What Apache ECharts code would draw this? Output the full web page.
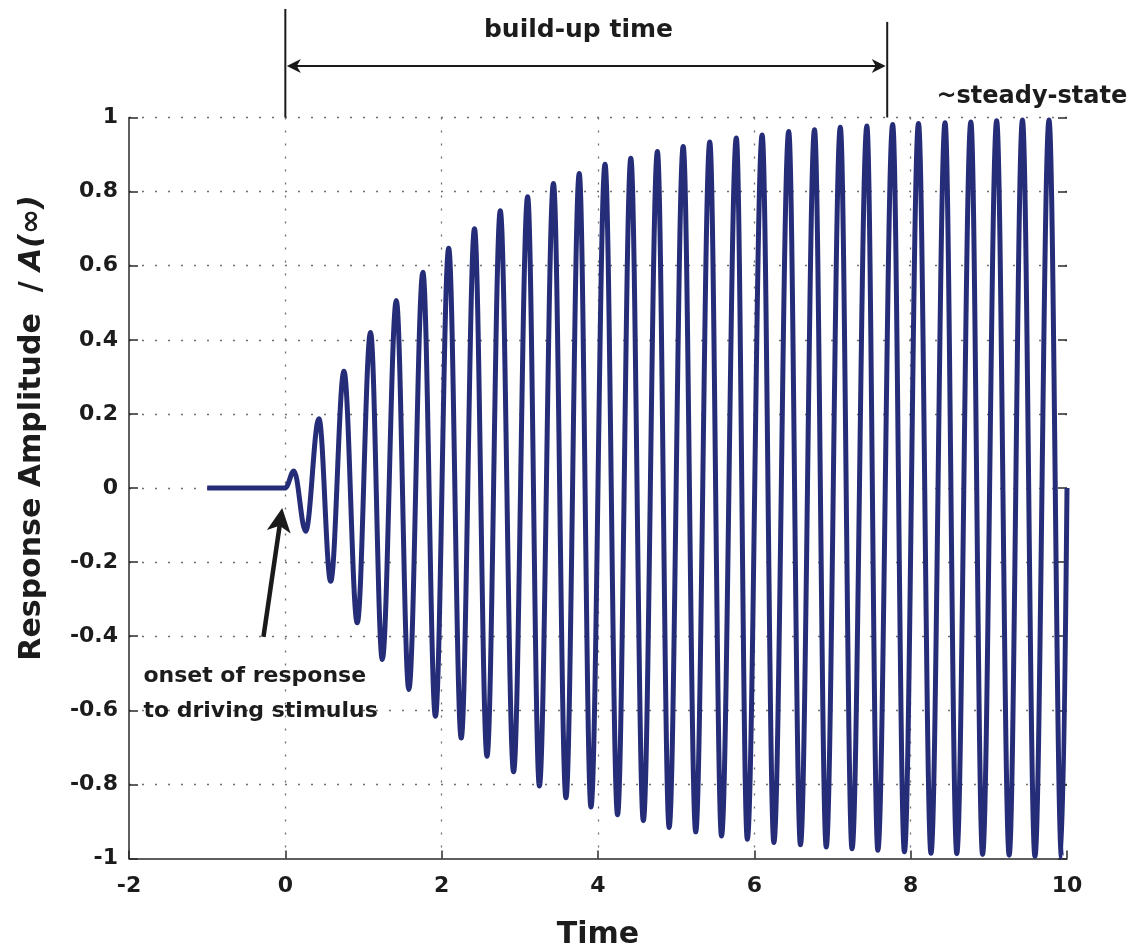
<!DOCTYPE html>
<html>
<head>
<meta charset="utf-8">
<script src="https://cdn.jsdelivr.net/npm/echarts@6/dist/echarts.min.js"></script>
<style>
html,body{margin:0;padding:0;background:#fff;}
#chart{width:1134px;height:950px;}
</style>
</head>
<body>
<div id="chart"></div>
<script>
// ---- data ----
const flatTimes = [-1, 0];
const flatValues = [0, 0];
const peakTimes = [0.11, 0.43, 0.75, 1.09, 1.42, 1.76, 2.09, 2.42, 2.75, 3.10, 3.43, 3.76, 4.09, 4.42, 4.76, 5.09, 5.43, 5.77, 6.10, 6.44, 6.77, 7.10, 7.44, 7.77, 8.10, 8.44, 8.77, 9.10, 9.43, 9.77];
const peakValues = [0.046, 0.187, 0.315, 0.42, 0.506, 0.582, 0.647, 0.70, 0.748, 0.786, 0.822, 0.849, 0.874, 0.89, 0.908, 0.922, 0.934, 0.945, 0.953, 0.962, 0.967, 0.974, 0.977, 0.981, 0.984, 0.986, 0.988, 0.991, 0.993, 0.993];
const troughTimes = [0.26, 0.58, 0.92, 1.24, 1.58, 1.92, 2.25, 2.58, 2.92, 3.25, 3.59, 3.91, 4.25, 4.58, 4.91, 5.25, 5.58, 5.91, 6.25, 6.59, 6.92, 7.25, 7.58, 7.92, 8.26, 8.59, 8.92, 9.26, 9.59, 9.93];
const troughValues = [-0.117, -0.252, -0.364, -0.463, -0.544, -0.616, -0.675, -0.724, -0.766, -0.804, -0.836, -0.861, -0.882, -0.898, -0.916, -0.928, -0.939, -0.948, -0.957, -0.963, -0.969, -0.974, -0.978, -0.982, -0.986, -0.987, -0.989, -0.991, -0.994, -0.996];
const endTime = 10;
const endValue = 0;

const xTickLabels = ['-2', '0', '2', '4', '6', '8', '10'];
const yTickLabels = ['-1', '-0.8', '-0.6', '-0.4', '-0.2', '0', '0.2', '0.4', '0.6', '0.8', '1'];

// annotation anchors (data units)
const buildUpRange = [0, 7.7];
const buildUpLineTop = [1.293, 1.258];
const buildUpArrowY = 1.139;
const buildUpLabelPos = [3.75, 1.236];
const steadyLabelPos = [9.55, 1.055];
const onsetArrowTail = [-0.28, -0.402];
const onsetArrowTip = [-0.04, -0.054];
const onsetLabelPos = [-1.816, -0.507];

// ---- build series ----
const waveData = [];
for (let i = 0; i < flatTimes.length; i++) waveData.push([flatTimes[i], flatValues[i]]);
for (let i = 0; i < peakTimes.length; i++) {
  waveData.push([peakTimes[i], peakValues[i]]);
  waveData.push([troughTimes[i], troughValues[i]]);
}
waveData.push([endTime, endValue]);

const FONT = 'DejaVu Sans';
const TXT = '#1c1c1c';
const AX = '#2a2a2a';

const chart = echarts.init(document.getElementById('chart'), null, {renderer: 'canvas'});
chart.setOption({
  animation: false,
  backgroundColor: '#fff',
  grid: {left: 129, right: 67, top: 117.5, bottom: 91.5, containLabel: false, outerBoundsMode: 'none'},
  xAxis: {
    type: 'value', min: -2, max: 10, interval: 2,
    axisLine: {show: true, onZero: false, lineStyle: {color: AX, width: 1.5}},
    axisTick: {show: true, inside: true, length: 8, lineStyle: {color: AX, width: 1.5}},
    axisLabel: {
      fontFamily: FONT, fontWeight: 'bold', fontSize: 22, color: TXT, margin: 17,
      formatter: (v, i) => xTickLabels[i]
    },
    splitLine: {show: true, showMinLine: false, showMaxLine: false,
      lineStyle: {color: '#6f6f6f', width: 1.3, type: [2, 11]}},
    name: 'Time', nameLocation: 'middle', nameGap: 62,
    nameTextStyle: {fontFamily: FONT, fontWeight: 'bold', fontSize: 30, color: TXT}
  },
  yAxis: [{
    type: 'value', min: -1, max: 1, interval: 0.2, position: 'left',
    axisLine: {show: true, onZero: false, lineStyle: {color: AX, width: 1.5}},
    axisTick: {show: true, inside: true, length: 9, lineStyle: {color: AX, width: 1.5}},
    axisLabel: {
      fontFamily: FONT, fontWeight: 'bold', fontSize: 22, color: TXT, margin: 11,
      formatter: (v, i) => yTickLabels[i]
    },
    splitLine: {show: true, showMinLine: false, showMaxLine: true,
      lineStyle: {color: '#6f6f6f', width: 1.3, type: [2, 11]}}
  }, {
    type: 'value', min: -1, max: 1, interval: 0.2, position: 'right',
    axisLine: {show: false, onZero: false},
    axisTick: {show: true, inside: true, length: 9, lineStyle: {color: AX, width: 1.5}},
    axisLabel: {show: false},
    splitLine: {show: false}
  }],
  series: [{
    type: 'line',
    data: waveData,
    showSymbol: false,
    smooth: 0.364,
    smoothMonotone: 'x',
    clip: false,
    lineStyle: {color: '#262d78', width: 5},
    z: 3
  }]
});

function px(p) { return chart.convertToPixel({gridIndex: 0}, p); }

function arrowHead(tip, from, len, halfW, notch) {
  const dx = tip[0] - from[0], dy = tip[1] - from[1];
  const d = Math.sqrt(dx * dx + dy * dy);
  const ux = dx / d, uy = dy / d;
  const nx = -uy, ny = ux;
  const bx = tip[0] - ux * len, by = tip[1] - uy * len;
  const mx = tip[0] - ux * (len - notch), my = tip[1] - uy * (len - notch);
  return [tip, [bx + nx * halfW, by + ny * halfW], [mx, my], [bx - nx * halfW, by - ny * halfW]];
}

const g = [];
// build-up vertical markers
for (let k = 0; k < 2; k++) {
  const top = px([buildUpRange[k], buildUpLineTop[k]]);
  const bot = px([buildUpRange[k], 1]);
  g.push({type: 'line', shape: {x1: top[0], y1: top[1], x2: bot[0], y2: bot[1]},
    style: {stroke: '#1a1a1a', lineWidth: 2}, z: 10});
}
const aL = px([buildUpRange[0], buildUpArrowY]);
const aR = px([buildUpRange[1], buildUpArrowY]);
aL[0] += 1.5; aR[0] -= 1.5;
g.push({type: 'line', shape: {x1: aL[0] + 8, y1: aL[1], x2: aR[0] - 8, y2: aR[1]},
  style: {stroke: '#1a1a1a', lineWidth: 2}, z: 10});
g.push({type: 'polygon', shape: {points: arrowHead(aL, aR, 14, 7, 4)}, style: {fill: '#1a1a1a'}, z: 10});
g.push({type: 'polygon', shape: {points: arrowHead(aR, aL, 14, 7, 4)}, style: {fill: '#1a1a1a'}, z: 10});

const bl = px(buildUpLabelPos);
g.push({type: 'text', x: bl[0], y: bl[1], z: 10,
  style: {text: 'build-up time', fill: TXT, fontFamily: FONT, fontWeight: 'bold', fontSize: 25,
    align: 'center', verticalAlign: 'middle'}});
const sl = px(steadyLabelPos);
g.push({type: 'text', x: sl[0], y: sl[1], z: 10,
  style: {text: '~steady-state', fill: TXT, fontFamily: FONT, fontWeight: 'bold', fontSize: 24,
    align: 'center', verticalAlign: 'middle'}});

// onset arrow
const ot = px(onsetArrowTail), oh = px(onsetArrowTip);
const head = arrowHead(oh, ot, 24, 12, 6);
g.push({type: 'line', shape: {x1: ot[0], y1: ot[1], x2: head[2][0], y2: head[2][1]},
  style: {stroke: '#1a1a1a', lineWidth: 4.5}, z: 10});
g.push({type: 'polygon', shape: {points: head}, style: {fill: '#1a1a1a'}, z: 10});
const ol = px(onsetLabelPos);
g.push({type: 'text', x: ol[0], y: ol[1], z: 10,
  style: {text: 'onset of response\nto driving stimulus', fill: TXT, fontFamily: FONT, fontWeight: 'bold',
    fontSize: 22, lineHeight: 35, align: 'left', verticalAlign: 'top', padding: [-17, 0, 0, 0]}});

// y axis title
g.push({type: 'text', x: 32, y: 428, rotation: Math.PI / 2, z: 10,
  style: {
    text: '{n|Response Amplitude  / }{i|A(∞)}',
    align: 'center', verticalAlign: 'middle',
    rich: {
      n: {fontFamily: FONT, fontWeight: 'bold', fontSize: 30, fill: TXT, color: TXT},
      i: {fontFamily: FONT, fontWeight: 'bold', fontStyle: 'italic', fontSize: 30, fill: TXT, color: TXT}
    }
  }});

chart.setOption({graphic: g});
</script>
</body>
</html>
